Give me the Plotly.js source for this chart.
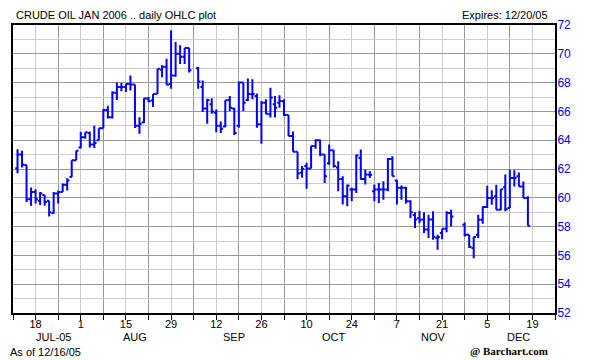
<!DOCTYPE html>
<html>
<head>
<meta charset="utf-8">
<script src="https://cdn.plot.ly/plotly-3.0.1.min.js"></script>
<style>
html,body{margin:0;padding:0;background:#fff;}
#chart{width:612px;height:360px;}
</style>
</head>
<body>
<div id="chart"></div>
<script>
// Trading days (Jul 12 2005 - Dec 16 2005)
const dates = [
"2005-07-12","2005-07-13","2005-07-14","2005-07-15",
"2005-07-18","2005-07-19","2005-07-20","2005-07-21","2005-07-22",
"2005-07-25","2005-07-26","2005-07-27","2005-07-28","2005-07-29",
"2005-08-01","2005-08-02","2005-08-03","2005-08-04","2005-08-05",
"2005-08-08","2005-08-09","2005-08-10","2005-08-11","2005-08-12",
"2005-08-15","2005-08-16","2005-08-17","2005-08-18","2005-08-19",
"2005-08-22","2005-08-23","2005-08-24","2005-08-25","2005-08-26",
"2005-08-29","2005-08-30","2005-08-31","2005-09-01","2005-09-02",
"2005-09-06","2005-09-07","2005-09-08","2005-09-09",
"2005-09-12","2005-09-13","2005-09-14","2005-09-15","2005-09-16",
"2005-09-19","2005-09-20","2005-09-21","2005-09-22","2005-09-23",
"2005-09-26","2005-09-27","2005-09-28","2005-09-29","2005-09-30",
"2005-10-03","2005-10-04","2005-10-05","2005-10-06","2005-10-07",
"2005-10-10","2005-10-11","2005-10-12","2005-10-13","2005-10-14",
"2005-10-17","2005-10-18","2005-10-19","2005-10-20","2005-10-21",
"2005-10-24","2005-10-25","2005-10-26","2005-10-27","2005-10-28",
"2005-10-31","2005-11-01","2005-11-02","2005-11-03","2005-11-04",
"2005-11-07","2005-11-08","2005-11-09","2005-11-10","2005-11-11",
"2005-11-14","2005-11-15","2005-11-16","2005-11-17","2005-11-18",
"2005-11-21","2005-11-22","2005-11-23",
"2005-11-28","2005-11-29","2005-11-30","2005-12-01","2005-12-02",
"2005-12-05","2005-12-06","2005-12-07","2005-12-08","2005-12-09",
"2005-12-12","2005-12-13","2005-12-14","2005-12-15","2005-12-16"
];
const openV = [
62.05,63.00,62.28,59.90,
60.40,59.80,60.20,59.80,58.95,
60.30,60.40,60.90,61.45,62.60,
63.50,64.20,64.50,63.70,64.00,
64.83,66.10,65.60,67.30,67.70,
67.70,67.90,67.87,65.00,65.25,
66.90,66.76,67.22,68.90,69.10,
67.90,68.50,70.00,69.80,70.40,
69.00,67.70,66.20,66.50,
65.90,65.00,64.95,66.80,66.20,
65.00,68.00,66.80,67.19,67.07,
65.10,66.60,65.80,66.50,66.60,
66.70,65.75,64.30,63.20,61.74,
62.20,62.04,63.60,64.00,63.00,
62.40,63.30,62.10,61.30,60.11,
60.57,60.57,62.77,61.30,61.60,
60.45,60.57,60.57,60.57,62.70,
61.20,60.69,60.69,59.76,58.80,
58.60,58.50,57.80,58.50,57.20,
57.55,57.85,58.94,
58.13,57.43,56.51,57.43,58.48,
59.36,59.98,60.10,59.17,60.73,
59.30,61.37,61.50,60.79,59.98
];
const highV = [
63.37,63.27,62.30,60.72,
60.60,60.40,60.20,59.80,60.40,
60.50,61.00,61.35,62.60,63.26,
64.58,64.55,64.60,65.00,64.83,
66.17,66.40,67.40,68.00,67.97,
67.92,68.50,67.87,65.60,66.92,
67.00,67.20,68.96,69.20,69.66,
71.63,70.82,70.60,70.40,70.40,
69.08,68.15,66.88,66.92,
66.14,65.30,66.77,67.07,66.26,
68.07,68.00,68.28,68.23,67.24,
66.73,66.84,67.65,67.07,67.12,
66.84,65.75,64.60,63.20,62.20,
62.44,63.60,64.06,64.05,63.00,
63.70,63.30,62.54,61.50,60.92,
60.69,63.00,63.35,61.96,61.84,
60.92,61.03,61.15,62.77,62.89,
61.26,60.85,60.75,59.83,59.00,
59.10,59.00,58.82,59.06,57.43,
57.85,59.06,59.17,
58.29,57.43,57.30,58.82,59.40,
60.84,60.52,60.91,60.61,61.61,
61.95,61.91,61.75,61.14,60.10
];
const lowV = [
61.70,62.10,59.70,59.45,
59.60,59.50,59.45,58.70,58.90,
59.60,60.40,60.50,61.45,62.60,
63.42,64.10,63.50,63.45,64.00,
64.83,65.50,65.50,66.80,67.40,
67.34,67.46,64.84,64.44,65.20,
66.65,66.30,67.22,68.38,67.85,
67.57,68.40,69.30,69.30,68.70,
67.57,65.95,65.14,65.83,
64.56,64.50,64.90,66.03,64.36,
64.87,66.03,66.73,66.84,64.87,
63.76,65.80,65.57,65.57,66.26,
65.68,64.29,63.20,61.28,61.39,
60.63,62.04,63.40,62.89,61.03,
62.30,62.10,60.45,59.53,59.41,
59.76,60.34,61.26,60.92,61.38,
59.76,59.64,59.87,60.45,61.50,
59.53,59.87,59.60,58.60,57.90,
58.24,57.55,57.20,57.09,56.39,
57.13,57.60,58.01,
57.32,56.51,55.81,57.20,58.20,
59.29,59.52,59.17,59.13,59.06,
59.29,60.79,60.79,59.98,58.06
];
const closeV = [
63.00,62.30,59.90,60.40,
59.90,60.30,59.70,59.00,60.30,
60.40,60.90,61.20,62.60,63.26,
64.20,64.55,63.70,63.80,64.83,
66.10,65.60,67.30,67.70,67.70,
67.90,67.87,65.00,65.14,66.90,
66.70,67.20,68.96,69.10,67.85,
68.50,70.00,69.80,70.40,68.85,
68.08,66.20,66.80,66.00,
65.00,64.80,66.77,66.26,64.50,
68.00,66.60,67.20,67.20,65.10,
66.60,65.84,66.96,66.26,66.73,
65.75,64.30,63.20,61.70,62.00,
62.04,63.60,64.00,63.00,61.50,
63.30,62.20,61.30,60.10,60.85,
60.57,62.93,61.30,61.61,61.60,
60.57,60.57,60.57,62.70,61.50,
60.70,60.69,59.76,59.00,58.50,
58.48,57.80,58.50,57.30,57.27,
57.85,58.94,58.71,
57.43,56.60,57.27,58.48,59.36,
59.98,59.98,59.17,60.60,59.20,
61.37,61.37,60.79,59.98,58.06
];
// Month labels under the axis
const monthLabels = ["JUL-05","AUG","SEP","OCT","NOV","DEC"];
const monthPos = ["2005-07-22","2005-08-17","2005-09-16","2005-10-18","2005-11-17","2005-12-14"];

const DAY = 86400000;
const xs = dates.map(d => d + " 12:00");

const trace = {
  type: "ohlc",
  x: xs, open: openV, high: highV, low: lowV, close: closeV,
  increasing: {line: {color: "#0000ff", width: 2}},
  decreasing: {line: {color: "#0000ff", width: 2}},
  tickwidth: 0.5,
  hoverinfo: "none"
};

const annotations = [
  {text: "CRUDE OIL JAN 2006 .. daily OHLC plot", xref: "paper", yref: "paper",
   x: 0, xshift: 1, y: 1, yanchor: "bottom", yshift: 2, xanchor: "left", showarrow: false,
   font: {size: 11, color: "#000"}},
  {text: "Expires: 12/20/05", xref: "paper", yref: "paper",
   x: 0.991, y: 1, yanchor: "bottom", yshift: 2, xanchor: "right", showarrow: false,
   font: {size: 11, color: "#000"}},
  {text: "As of 12/16/05", xref: "paper", yref: "paper",
   x: 0, xshift: -5, y: -0.135, xanchor: "left", yanchor: "middle", showarrow: false,
   font: {size: 11, color: "#000"}},
  {text: "<b>@ Barchart.com</b>", xref: "paper", yref: "paper",
   x: 0.991, y: -0.132, xanchor: "right", yanchor: "middle", showarrow: false,
   font: {size: 11, color: "#000", family: "Liberation Serif, Times New Roman, serif"}}
];
monthLabels.forEach((m, i) => {
  annotations.push({text: m, xref: "x", yref: "paper", x: monthPos[i] + " 12:00",
    y: -0.082, xanchor: "center", yanchor: "middle", showarrow: false,
    font: {size: 11, color: "#000"}});
});

const layout = {
  width: 612, height: 360,
  margin: {l: 13, r: 57, t: 25, b: 47, pad: 0},
  paper_bgcolor: "#fff", plot_bgcolor: "#fff",
  showlegend: false,
  font: {family: "Liberation Sans, Arial, sans-serif", size: 11, color: "#000"},
  xaxis: {
    type: "date",
    range: ["2005-07-11 12:00", "2005-12-26 12:00"],
    rangebreaks: [{bounds: ["sat", "mon"]}],
    tick0: "2005-07-18 12:00", dtick: 14 * DAY,
    tickformat: "%-d",
    ticks: "outside", ticklen: 5, tickcolor: "#000", tickwidth: 1,
    ticklabelstandoff: -5,
    tickfont: {size: 11, color: "#000"},
    showgrid: true, gridcolor: "#cccccc", gridwidth: 1,
    minor: {tick0: "2005-07-18 12:00", dtick: 7 * DAY, ticks: "outside", ticklen: 5,
            tickcolor: "#000", tickwidth: 1, showgrid: true, gridcolor: "#999999", gridwidth: 1},
    showline: true, linecolor: "#000", linewidth: 2, mirror: true,
    zeroline: false,
    rangeslider: {visible: false},
    fixedrange: true
  },
  yaxis: {
    side: "right", range: [52, 72], tick0: 52, dtick: 2,
    ticks: "", showgrid: true, gridcolor: "#999999", gridwidth: 1,
    minor: {dtick: 1, showgrid: true, gridcolor: "#cccccc", gridwidth: 1},
    tickfont: {size: 12, color: "#0000ff"},
    ticklabelstandoff: -2,
    showline: true, linecolor: "#000", linewidth: 2, mirror: true,
    zeroline: false, fixedrange: true
  },
  annotations: annotations
};

Plotly.newPlot("chart", [trace], layout, {displayModeBar: false, staticPlot: true});
</script>
</body>
</html>
